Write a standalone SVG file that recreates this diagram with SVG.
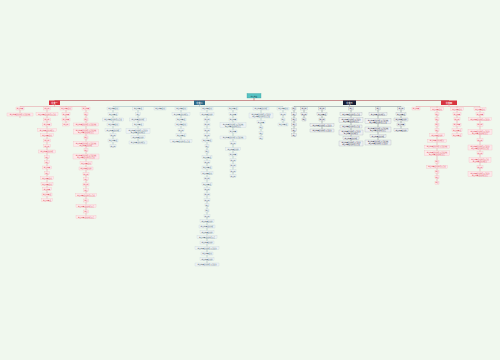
<svg xmlns="http://www.w3.org/2000/svg" width="500" height="360" viewBox="0 0 500 360">
<style>
text{font-family:"Noto Sans CJK SC","Noto Sans",sans-serif;font-size:1.6px;text-anchor:middle}
.r rect{fill:#fde9eb;stroke:#f0a6ae;stroke-width:.22}
.r text{fill:#dc4452}
.b rect{fill:#edf2f4;stroke:#b4c6ce;stroke-width:.22}
.b text{fill:#3d5868}
.d rect{fill:#eef0f2;stroke:#8f97a5;stroke-width:.22}
.d text{fill:#1e2638}
.h text{fill:#fff;font-size:2.2px;font-weight:bold}
.hr{fill:#d7333f}.hb{fill:#2c6887}.hd{fill:#151d35}
.c path{fill:none;stroke-width:.35}
.cr{stroke:#e26c7a}.cb{stroke:#6b93a6}.cd{stroke:#444e60}
.cm{stroke:#b04b53;stroke-width:.6!important}
</style>
<rect width="500" height="360" fill="#f0f8ee"/>
<g id="connectors" class="c">
<path class="cm" d="M254 98V100.5M54.5 100.5H449"/>
<path class="cr" d="M54.5 105V106.5M20 106.5H86M20 106.5V118M47 106.5V200M66 106.5V124.5M86 106.5V217"/>
<path class="cb" d="M199.5 105V106.5M113 106.5H283M113 106.5V146M138 106.5V142.5M160 106.5V108.5M181 106.5V141M207 106.5V264.5M233 106.5V176M261 106.5V138M283 106.5V124.5"/>
<path class="cd" d="M349.5 105V106.5M294 106.5H401M294 106.5V135M304 106.5V119.5M322 106.5V130.5M351 106.5V143.5M378 106.5V142.5M401 106.5V130"/>
<path class="cr" d="M449 105V106.5M416 106.5H480M416 106.5V108.5M437 106.5V182.7M457 106.5V135M480 106.5V174"/>
</g>
<g id="root"><rect x="247" y="93.5" width="14" height="4.5" fill="#55c2c2" stroke="#2a9a9a" stroke-width=".3"/><text x="254" y="96.6" font-size="2.4" fill="#123">中心主题</text></g>
<g class="h">
<g id="h1"><rect class="hr" x="49" y="100.5" width="11" height="4.5"/><text x="54.5" y="103.5">分支一</text></g>
<g id="h2"><rect class="hb" x="194" y="100.5" width="11" height="4.5"/><text x="199.5" y="103.5">分支二</text></g>
<g id="h3"><rect class="hd" x="343" y="100.5" width="13" height="4.5"/><text x="349.5" y="103.5">分支三</text></g>
<g id="h4"><rect class="hr" x="441" y="100.5" width="16" height="4.5"/><text x="449" y="103.5">分支四</text></g>
</g>
<g class="r">
<g id="a0"><rect x="16" y="107" width="8" height="3"/><text x="20" y="109.13">主要内容</text></g>
<g id="a1"><rect x="7" y="113" width="26" height="3"/><text x="20" y="115.13">主要内容说明分析要点总结概</text></g>
<g id="b0"><rect x="43.5" y="107" width="7" height="3"/><text x="47" y="109.13">主要内</text></g>
<g id="b1"><rect x="36" y="112.5" width="22" height="3"/><text x="47" y="114.63">主要内容说明分析要点总</text></g>
<g id="b2"><rect x="43.5" y="118" width="7" height="3"/><text x="47" y="120.13">主要内</text></g>
<g id="b3"><rect x="42.5" y="123" width="9" height="3"/><text x="47" y="125.13">主要内容</text></g>
<g id="b4"><rect x="37.5" y="128.5" width="19" height="3"/><text x="47" y="130.63">主要内容说明分析要</text></g>
<g id="b5"><rect x="40.5" y="133.5" width="13" height="3"/><text x="47" y="135.63">主要内容说明</text></g>
<g id="b6"><rect x="43.5" y="139" width="7" height="3"/><text x="47" y="141.13">主要内</text></g>
<g id="b7"><rect x="43.5" y="144.5" width="7" height="3"/><text x="47" y="146.63">主要内</text></g>
<g id="b8"><rect x="38.5" y="150" width="17" height="3"/><text x="47" y="152.13">主要内容说明分析</text></g>
<g id="b9"><rect x="44.5" y="155.5" width="5" height="3"/><text x="47" y="157.63">主要</text></g>
<g id="b10"><rect x="44.5" y="160.5" width="5" height="3"/><text x="47" y="162.63">主要</text></g>
<g id="b11"><rect x="42.5" y="166" width="9" height="3"/><text x="47" y="168.13">主要内容</text></g>
<g id="b12"><rect x="44.5" y="171.5" width="5" height="3"/><text x="47" y="173.63">主要</text></g>
<g id="b13"><rect x="40.5" y="176.5" width="13" height="3"/><text x="47" y="178.63">主要内容说明</text></g>
<g id="b14"><rect x="41" y="182.5" width="12" height="3"/><text x="47" y="184.63">主要内容说明</text></g>
<g id="b15"><rect x="42.5" y="187.5" width="9" height="3"/><text x="47" y="189.63">主要内容</text></g>
<g id="b16"><rect x="42" y="193" width="10" height="3"/><text x="47" y="195.13">主要内容说</text></g>
<g id="b17"><rect x="41.5" y="198.5" width="11" height="3"/><text x="47" y="200.63">主要内容说</text></g>
<g id="c0"><rect x="60" y="107" width="12" height="3"/><text x="66" y="109.13">主要内容说明</text></g>
<g id="c1"><rect x="62" y="112.5" width="8" height="3"/><text x="66" y="114.63">主要内容</text></g>
<g id="c2"><rect x="62" y="118" width="8" height="3"/><text x="66" y="120.13">主要内容</text></g>
<g id="c3"><rect x="62.5" y="123" width="7" height="3"/><text x="66" y="125.13">主要内</text></g>
<g id="d0"><rect x="82" y="107" width="8" height="3"/><text x="86" y="109.13">主要内容</text></g>
<g id="d1"><rect x="84" y="112.5" width="4" height="3"/><text x="86" y="114.63">主要</text></g>
<g id="d2"><rect x="84" y="118" width="4" height="3"/><text x="86" y="120.13">主要</text></g>
<g id="d3"><rect x="73.5" y="123" width="25" height="3"/><text x="86" y="125.13">主要内容说明分析要点总结概</text></g>
<g id="d4"><rect x="73.5" y="129" width="25" height="5"/><text x="86" y="131.1">主要内容说明分析要点总结概<tspan x="86" y="133.2">主要内容说明分析要点</tspan></text></g>
<g id="d5"><rect x="84" y="136" width="4" height="3"/><text x="86" y="138.13">主要</text></g>
<g id="d6"><rect x="73.5" y="141.5" width="25" height="5"/><text x="86" y="143.6">主要内容说明分析要点总结概<tspan x="86" y="145.7">主要内容说明分析</tspan></text></g>
<g id="d7"><rect x="84" y="148.5" width="4" height="3"/><text x="86" y="150.63">主要</text></g>
<g id="d8"><rect x="73" y="154" width="26" height="5"/><text x="86" y="156.1">主要内容说明分析要点总结概<tspan x="86" y="158.2">主要内容说明分析要点总</tspan></text></g>
<g id="d9"><rect x="80" y="161.5" width="12" height="3"/><text x="86" y="163.63">主要内容说明</text></g>
<g id="d10"><rect x="79" y="167" width="14" height="3"/><text x="86" y="169.13">主要内容说明分</text></g>
<g id="d11"><rect x="83" y="172.5" width="6" height="3"/><text x="86" y="174.63">主要内</text></g>
<g id="d12"><rect x="83.5" y="177.5" width="5" height="3"/><text x="86" y="179.63">主要</text></g>
<g id="d13"><rect x="83" y="183" width="6" height="3"/><text x="86" y="185.13">主要内</text></g>
<g id="d14"><rect x="83.5" y="188.5" width="5" height="3"/><text x="86" y="190.63">主要</text></g>
<g id="d15"><rect x="75.5" y="193.5" width="21" height="3"/><text x="86" y="195.63">主要内容说明分析要点总</text></g>
<g id="d16"><rect x="83.5" y="199" width="5" height="3"/><text x="86" y="201.13">主要</text></g>
<g id="d17"><rect x="76" y="204.5" width="20" height="3"/><text x="86" y="206.63">主要内容说明分析要点</text></g>
<g id="d18"><rect x="83.5" y="210" width="5" height="3"/><text x="86" y="212.13">主要</text></g>
<g id="d19"><rect x="76" y="215.5" width="20" height="3"/><text x="86" y="217.63">主要内容说明分析要点</text></g>
</g>
<g class="b">
<g id="e0"><rect x="107" y="107" width="12" height="3"/><text x="113" y="109.13">主要内容说明</text></g>
<g id="e1"><rect x="108" y="112.5" width="10" height="3"/><text x="113" y="114.63">主要内容说</text></g>
<g id="e2"><rect x="102.5" y="118" width="21" height="3"/><text x="113" y="120.13">主要内容说明分析要点总</text></g>
<g id="e3"><rect x="107" y="123" width="12" height="3"/><text x="113" y="125.13">主要内容说明</text></g>
<g id="e4"><rect x="105" y="128.5" width="16" height="3"/><text x="113" y="130.63">主要内容说明分析</text></g>
<g id="e5"><rect x="110" y="133.5" width="6" height="3"/><text x="113" y="135.63">主要内</text></g>
<g id="e6"><rect x="108" y="139" width="10" height="3"/><text x="113" y="141.13">主要内容说</text></g>
<g id="e7"><rect x="110" y="144.5" width="6" height="3"/><text x="113" y="146.63">主要内</text></g>
<g id="f0"><rect x="132.5" y="107" width="11" height="3"/><text x="138" y="109.13">主要内容说</text></g>
<g id="f1"><rect x="135.5" y="112.5" width="5" height="3"/><text x="138" y="114.63">主要</text></g>
<g id="f2"><rect x="129.5" y="118" width="17" height="3"/><text x="138" y="120.13">主要内容说明分析</text></g>
<g id="f3"><rect x="132.5" y="123" width="11" height="3"/><text x="138" y="125.13">主要内容说</text></g>
<g id="f4"><rect x="126" y="128.5" width="24" height="5"/><text x="138" y="130.6">主要内容说明分析要点总结<tspan x="138" y="132.7">主要内容说明分析要</tspan></text></g>
<g id="f5"><rect x="131" y="135.5" width="14" height="3"/><text x="138" y="137.63">主要内容说明分</text></g>
<g id="f6"><rect x="129" y="141" width="18" height="3"/><text x="138" y="143.13">主要内容说明分析要</text></g>
<g id="g0"><rect x="154" y="107" width="12" height="3"/><text x="160" y="109.13">主要内容说明</text></g>
<g id="i0"><rect x="175" y="107" width="12" height="3"/><text x="181" y="109.13">主要内容说明</text></g>
<g id="i1"><rect x="172" y="112.5" width="18" height="3"/><text x="181" y="114.63">主要内容说明分析要</text></g>
<g id="i2"><rect x="176" y="118" width="10" height="3"/><text x="181" y="120.13">主要内容说</text></g>
<g id="i3"><rect x="175" y="123" width="12" height="3"/><text x="181" y="125.13">主要内容说明</text></g>
<g id="i4"><rect x="178" y="128.5" width="6" height="3"/><text x="181" y="130.63">主要内</text></g>
<g id="i5"><rect x="176" y="133.5" width="10" height="3"/><text x="181" y="135.63">主要内容说</text></g>
<g id="i6"><rect x="170" y="139.5" width="22" height="3"/><text x="181" y="141.63">主要内容说明分析要点总</text></g>
<g id="j0"><rect x="201" y="107" width="12" height="3"/><text x="207" y="109.13">主要内容说明</text></g>
<g id="j1"><rect x="200" y="112.5" width="14" height="3"/><text x="207" y="114.63">主要内容说明分</text></g>
<g id="j2"><rect x="204" y="118" width="6" height="3"/><text x="207" y="120.13">主要内</text></g>
<g id="j3"><rect x="204" y="123" width="6" height="3"/><text x="207" y="125.13">主要内</text></g>
<g id="j4"><rect x="204" y="128.5" width="6" height="3"/><text x="207" y="130.63">主要内</text></g>
<g id="j5"><rect x="204" y="133.5" width="6" height="3"/><text x="207" y="135.63">主要内</text></g>
<g id="j6"><rect x="202" y="139" width="10" height="3"/><text x="207" y="141.13">主要内容说</text></g>
<g id="j7"><rect x="205" y="144.5" width="4" height="3"/><text x="207" y="146.63">主要</text></g>
<g id="j8"><rect x="205" y="150" width="4" height="3"/><text x="207" y="152.13">主要</text></g>
<g id="j9"><rect x="202" y="155.5" width="10" height="3"/><text x="207" y="157.63">主要内容说</text></g>
<g id="j10"><rect x="204" y="160.5" width="6" height="3"/><text x="207" y="162.63">主要内</text></g>
<g id="j11"><rect x="202" y="166" width="10" height="3"/><text x="207" y="168.13">主要内容说</text></g>
<g id="j12"><rect x="201" y="171.5" width="12" height="3"/><text x="207" y="173.63">主要内容说明</text></g>
<g id="j13"><rect x="204" y="177" width="6" height="3"/><text x="207" y="179.13">主要内</text></g>
<g id="j14"><rect x="202" y="182.5" width="10" height="3"/><text x="207" y="184.63">主要内容说</text></g>
<g id="j15"><rect x="204" y="187.5" width="6" height="3"/><text x="207" y="189.63">主要内</text></g>
<g id="j16"><rect x="204" y="193" width="6" height="3"/><text x="207" y="195.13">主要内</text></g>
<g id="j17"><rect x="204" y="198.5" width="6" height="3"/><text x="207" y="200.63">主要内</text></g>
<g id="j18"><rect x="205" y="203.5" width="4" height="3"/><text x="207" y="205.63">主要</text></g>
<g id="j19"><rect x="205" y="209" width="4" height="3"/><text x="207" y="211.13">主要</text></g>
<g id="j20"><rect x="204" y="214.5" width="6" height="3"/><text x="207" y="216.63">主要内</text></g>
<g id="j21"><rect x="200" y="219.5" width="14" height="3"/><text x="207" y="221.63">主要内容说明分</text></g>
<g id="j22"><rect x="199" y="225" width="16" height="3"/><text x="207" y="227.13">主要内容说明分析</text></g>
<g id="j23"><rect x="200" y="230.5" width="14" height="3"/><text x="207" y="232.63">主要内容说明分</text></g>
<g id="j24"><rect x="197" y="235.5" width="20" height="3"/><text x="207" y="237.63">主要内容说明分析要点</text></g>
<g id="j25"><rect x="200" y="241" width="14" height="3"/><text x="207" y="243.13">主要内容说明分</text></g>
<g id="j26"><rect x="195" y="246.5" width="24" height="3"/><text x="207" y="248.63">主要内容说明分析要点总结</text></g>
<g id="j27"><rect x="201" y="252" width="12" height="3"/><text x="207" y="254.13">主要内容说明</text></g>
<g id="j28"><rect x="200" y="257.5" width="14" height="3"/><text x="207" y="259.63">主要内容说明分</text></g>
<g id="j29"><rect x="195" y="263" width="24" height="3"/><text x="207" y="265.13">主要内容说明分析要点总结</text></g>
<g id="k0"><rect x="228" y="107" width="10" height="3"/><text x="233" y="109.13">主要内容说</text></g>
<g id="k1"><rect x="229" y="112.5" width="8" height="3"/><text x="233" y="114.63">主要内容</text></g>
<g id="k2"><rect x="229" y="118" width="8" height="3"/><text x="233" y="120.13">主要内容</text></g>
<g id="k3"><rect x="220" y="122.5" width="26" height="5"/><text x="233" y="124.6">主要内容说明分析要点总结概<tspan x="233" y="126.7">主要内容说明分析要点</tspan></text></g>
<g id="k4"><rect x="229" y="130" width="8" height="3"/><text x="233" y="132.13">主要内容</text></g>
<g id="k5"><rect x="220" y="136" width="26" height="3"/><text x="233" y="138.13">主要内容说明分析要点总结概</text></g>
<g id="k6"><rect x="230" y="141.5" width="6" height="3"/><text x="233" y="143.63">主要内</text></g>
<g id="k7"><rect x="225.5" y="147.5" width="15" height="3"/><text x="233" y="149.63">主要内容说明分</text></g>
<g id="k8"><rect x="229" y="153" width="8" height="3"/><text x="233" y="155.13">主要内容</text></g>
<g id="k9"><rect x="230" y="158.5" width="6" height="3"/><text x="233" y="160.63">主要内</text></g>
<g id="k10"><rect x="230" y="164" width="6" height="3"/><text x="233" y="166.13">主要内</text></g>
<g id="k11"><rect x="230" y="169.5" width="6" height="3"/><text x="233" y="171.63">主要内</text></g>
<g id="k12"><rect x="230" y="174.5" width="6" height="3"/><text x="233" y="176.63">主要内</text></g>
<g id="m0"><rect x="253" y="107" width="16" height="3"/><text x="261" y="109.13">主要内容说明分析</text></g>
<g id="m1"><rect x="249" y="113" width="24" height="5"/><text x="261" y="115.1">主要内容说明分析要点总结<tspan x="261" y="117.2">主要内容说明分析要点总</tspan></text></g>
<g id="m2"><rect x="257" y="120.5" width="8" height="3"/><text x="261" y="122.63">主要内容</text></g>
<g id="m3"><rect x="259" y="126" width="4" height="3"/><text x="261" y="128.13">主要</text></g>
<g id="m4"><rect x="259" y="131.5" width="4" height="3"/><text x="261" y="133.63">主要</text></g>
<g id="m5"><rect x="259" y="136.5" width="4" height="3"/><text x="261" y="138.63">主要</text></g>
<g id="n0"><rect x="277" y="107" width="12" height="3"/><text x="283" y="109.13">主要内容说明</text></g>
<g id="n1"><rect x="280" y="112.5" width="6" height="3"/><text x="283" y="114.63">主要内</text></g>
<g id="n2"><rect x="281" y="118" width="4" height="3"/><text x="283" y="120.13">主要</text></g>
<g id="n3"><rect x="278" y="123" width="10" height="3"/><text x="283" y="125.13">主要内容说</text></g>
</g>
<g class="d">
<g id="p0"><rect x="292" y="107" width="4" height="3"/><text x="294" y="109.13">主要</text></g>
<g id="p1"><rect x="291.5" y="112.5" width="5" height="3"/><text x="294" y="114.63">主要</text></g>
<g id="p2"><rect x="291.5" y="118" width="5" height="3"/><text x="294" y="120.13">主要</text></g>
<g id="p3"><rect x="291.5" y="123" width="5" height="3"/><text x="294" y="125.13">主要</text></g>
<g id="p4"><rect x="291.5" y="128.5" width="5" height="3"/><text x="294" y="130.63">主要</text></g>
<g id="p5"><rect x="291.5" y="133.5" width="5" height="3"/><text x="294" y="135.63">主要</text></g>
<g id="q0"><rect x="300.5" y="107" width="7" height="3"/><text x="304" y="109.13">主要内</text></g>
<g id="q1"><rect x="301" y="112.5" width="6" height="3"/><text x="304" y="114.63">主要内</text></g>
<g id="q2"><rect x="302" y="118" width="4" height="3"/><text x="304" y="120.13">主要</text></g>
<g id="s0"><rect x="318.5" y="107" width="7" height="3"/><text x="322" y="109.13">主要内</text></g>
<g id="s1"><rect x="317" y="112.5" width="10" height="3"/><text x="322" y="114.63">主要内容说</text></g>
<g id="s2"><rect x="319" y="118" width="6" height="3"/><text x="322" y="120.13">主要内</text></g>
<g id="s3"><rect x="310" y="123.5" width="24" height="3"/><text x="322" y="125.63">主要内容说明分析要点总结</text></g>
<g id="s4"><rect x="310" y="129" width="24" height="3"/><text x="322" y="131.13">主要内容说明分析要点总结</text></g>
<g id="t0"><rect x="348.5" y="107" width="5" height="3"/><text x="351" y="109.13">主要</text></g>
<g id="t1"><rect x="340" y="112.5" width="22" height="3"/><text x="351" y="114.63">主要内容说明分析要点总</text></g>
<g id="t2"><rect x="339" y="117.5" width="24" height="5"/><text x="351" y="119.6">主要内容说明分析要点总结<tspan x="351" y="121.7">主要内容说明分析要点</tspan></text></g>
<g id="t3"><rect x="340" y="125" width="22" height="3"/><text x="351" y="127.13">主要内容说明分析要点总</text></g>
<g id="t4"><rect x="339" y="130" width="24" height="5"/><text x="351" y="132.1">主要内容说明分析要点总结<tspan x="351" y="134.2">主要内容说明分析要</tspan></text></g>
<g id="t5"><rect x="343" y="136.5" width="16" height="3"/><text x="351" y="138.63">主要内容说明分析</text></g>
<g id="t6"><rect x="339" y="141" width="24" height="5"/><text x="351" y="143.1">主要内容说明分析要点总结<tspan x="351" y="145.2">主要内容说明分析要点总</tspan></text></g>
<g id="u0"><rect x="375.5" y="107" width="5" height="3"/><text x="378" y="109.13">主要</text></g>
<g id="u1"><rect x="369" y="112.5" width="18" height="3"/><text x="378" y="114.63">主要内容说明分析要</text></g>
<g id="u2"><rect x="365" y="118.5" width="26" height="5"/><text x="378" y="120.6">主要内容说明分析要点总结概<tspan x="378" y="122.7">主要内容说明分析要点总</tspan></text></g>
<g id="u3"><rect x="365" y="127" width="26" height="5"/><text x="378" y="129.1">主要内容说明分析要点总结概<tspan x="378" y="131.2">主要内容说明分析要点</tspan></text></g>
<g id="u4"><rect x="370" y="134.5" width="16" height="3"/><text x="378" y="136.63">主要内容说明分析</text></g>
<g id="u5"><rect x="365" y="140" width="26" height="5"/><text x="378" y="142.1">主要内容说明分析要点总结概<tspan x="378" y="144.2">主要内容说明分析要点总结</tspan></text></g>
<g id="v0"><rect x="397.5" y="107" width="7" height="3"/><text x="401" y="109.13">主要内</text></g>
<g id="v1"><rect x="396" y="112.5" width="10" height="3"/><text x="401" y="114.63">主要内容说</text></g>
<g id="v2"><rect x="394" y="118" width="14" height="3"/><text x="401" y="120.13">主要内容说明分</text></g>
<g id="v3"><rect x="397" y="123" width="8" height="3"/><text x="401" y="125.13">主要内容</text></g>
<g id="v4"><rect x="394" y="128.5" width="14" height="3"/><text x="401" y="130.63">主要内容说明分</text></g>
</g>
<g class="r">
<g id="w0"><rect x="412" y="107" width="8" height="3"/><text x="416" y="109.13">主要内容</text></g>
<g id="x0"><rect x="430.5" y="107.5" width="13" height="3"/><text x="437" y="109.63">主要内容说明</text></g>
<g id="x1"><rect x="435" y="112.5" width="4" height="3"/><text x="437" y="114.63">主要</text></g>
<g id="x2"><rect x="435" y="117.8" width="4" height="3"/><text x="437" y="119.93">主要</text></g>
<g id="x3"><rect x="435" y="123.2" width="4" height="3"/><text x="437" y="125.33">主要</text></g>
<g id="x4"><rect x="435" y="128.5" width="4" height="3"/><text x="437" y="130.63">主要</text></g>
<g id="x5"><rect x="429.5" y="133.5" width="15" height="3"/><text x="437" y="135.63">主要内容说明分</text></g>
<g id="x6"><rect x="427.5" y="139.2" width="19" height="3"/><text x="437" y="141.33">主要内容说明分析要</text></g>
<g id="x7"><rect x="424.5" y="145.2" width="25" height="3"/><text x="437" y="147.33">主要内容说明分析要点总结概</text></g>
<g id="x8"><rect x="424.5" y="150.8" width="25" height="5"/><text x="437" y="152.9">主要内容说明分析要点总结概<tspan x="437" y="155">主要内容说明分析要点</tspan></text></g>
<g id="x9"><rect x="435" y="160.2" width="4" height="3"/><text x="437" y="162.33">主要</text></g>
<g id="x10"><rect x="426.5" y="165.2" width="21" height="3"/><text x="437" y="167.33">主要内容说明分析要点总</text></g>
<g id="x11"><rect x="435" y="170.2" width="4" height="3"/><text x="437" y="172.33">主要</text></g>
<g id="x12"><rect x="435" y="175.8" width="4" height="3"/><text x="437" y="177.93">主要</text></g>
<g id="x13"><rect x="435" y="181.2" width="4" height="3"/><text x="437" y="183.33">主要</text></g>
<g id="y0"><rect x="450.5" y="107.5" width="13" height="3"/><text x="457" y="109.63">主要内容说明</text></g>
<g id="y1"><rect x="453" y="112.5" width="8" height="3"/><text x="457" y="114.63">主要内容</text></g>
<g id="y2"><rect x="454" y="117.8" width="6" height="3"/><text x="457" y="119.93">主要内</text></g>
<g id="y3"><rect x="453" y="123.2" width="8" height="3"/><text x="457" y="125.33">主要内容</text></g>
<g id="y4"><rect x="452" y="128.5" width="10" height="3"/><text x="457" y="130.63">主要内容说</text></g>
<g id="y5"><rect x="452" y="133.5" width="10" height="3"/><text x="457" y="135.63">主要内容说</text></g>
<g id="z0"><rect x="474" y="107.5" width="12" height="3"/><text x="480" y="109.63">主要内容说明</text></g>
<g id="z1"><rect x="476" y="112.5" width="8" height="3"/><text x="480" y="114.63">主要内容</text></g>
<g id="z2"><rect x="468.5" y="117.8" width="23" height="3"/><text x="480" y="119.93">主要内容说明分析要点总结</text></g>
<g id="z3"><rect x="477" y="123.2" width="6" height="3"/><text x="480" y="125.33">主要内</text></g>
<g id="z4"><rect x="468" y="129.5" width="24" height="5"/><text x="480" y="131.6">主要内容说明分析要点总结<tspan x="480" y="133.7">主要内容说明分析要点</tspan></text></g>
<g id="z5"><rect x="477" y="138.5" width="6" height="3"/><text x="480" y="140.63">主要内</text></g>
<g id="z6"><rect x="468" y="145" width="24" height="5"/><text x="480" y="147.1">主要内容说明分析要点总结<tspan x="480" y="149.2">主要内容说明分析要点总</tspan></text></g>
<g id="z7"><rect x="477" y="151.8" width="6" height="3"/><text x="480" y="153.93">主要内</text></g>
<g id="z8"><rect x="469" y="157.5" width="22" height="5"/><text x="480" y="159.6">主要内容说明分析要点总<tspan x="480" y="161.7">主要内容说明分析要</tspan></text></g>
<g id="z9"><rect x="477" y="165.8" width="6" height="3"/><text x="480" y="167.93">主要内</text></g>
<g id="z10"><rect x="468" y="171.5" width="24" height="5"/><text x="480" y="173.6">主要内容说明分析要点总结<tspan x="480" y="175.7">主要内容说明分析要点</tspan></text></g>
</g>
</svg>
